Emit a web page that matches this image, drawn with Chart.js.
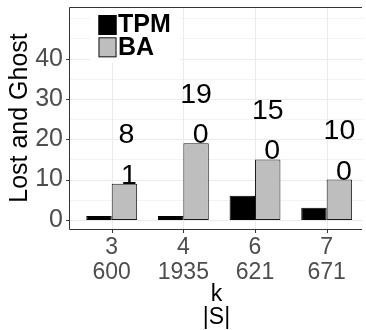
<!DOCTYPE html>
<html><head><meta charset="utf-8">
<script src="https://cdn.jsdelivr.net/npm/chart.js@4"></script>
<style>html,body{margin:0;padding:0;background:#fff;overflow:hidden}#wrap{width:366px;height:330px}canvas{display:block}</style>
</head><body><div id="wrap"><canvas id="c" width="366" height="330"></canvas></div>
<script>
// ---- data ----
const categories = [["3","600"],["4","1935"],["6","621"],["7","671"]];
const seriesNames = ["TPM","BA"];
const tpmValues = [1, 1, 6, 3];
const baValues = [9, 19, 15, 10];
const lowerLabels = ["1","0","0","0"];
const upperLabels = ["8","19","15","10"];
const upperLabelLift = 10;
const yTickValues = [0, 10, 20, 30, 40];
const yGridValues = [0, 5, 10, 15, 20, 25, 30, 35, 40, 45, 50];

const FAMILY = '"Liberation Sans", Arial, Helvetica, sans-serif';
Chart.defaults.font.family = FAMILY;
const MAJOR = '#ebebeb', MINOR = '#f3f3f3', AXIS = '#333333';

const xPos = categories.map((_, i) => i + 1);

const gridPlugin = {
  id: 'manualGrid',
  beforeDatasetsDraw(chart) {
    const {ctx, chartArea: a} = chart;
    const xs = chart.scales.x, ys = chart.scales.y;
    ctx.save();
    ctx.fillStyle = '#fff';
    ctx.fillRect(a.right - 1, 0, chart.width - a.right + 1, a.bottom + 1);
    ctx.lineWidth = 1;
    yGridValues.forEach(v => {
      const major = yTickValues.includes(v);
      const p = Math.round(ys.getPixelForValue(v)) + 0.5;
      ctx.strokeStyle = major ? MAJOR : MINOR;
      ctx.beginPath(); ctx.moveTo(a.left, p); ctx.lineTo(a.right, p); ctx.stroke();
      if (major) {
        ctx.strokeStyle = AXIS;
        ctx.beginPath(); ctx.moveTo(a.left - 4, p); ctx.lineTo(a.left, p); ctx.stroke();
      }
    });
    xPos.forEach(v => {
      const p = Math.round(xs.getPixelForValue(v)) + 0.5;
      ctx.strokeStyle = MAJOR;
      ctx.beginPath(); ctx.moveTo(p, a.top); ctx.lineTo(p, a.bottom); ctx.stroke();
      ctx.strokeStyle = AXIS;
      ctx.beginPath(); ctx.moveTo(p, a.bottom); ctx.lineTo(p, a.bottom + 4); ctx.stroke();
    });
    ctx.restore();
  }
};

const labelPlugin = {
  id: 'barLabels',
  afterDatasetsDraw(chart) {
    const {ctx} = chart;
    const meta = chart.getDatasetMeta(1);
    const ys = chart.scales.y;
    ctx.save();
    ctx.font = '28.5px ' + FAMILY;
    ctx.fillStyle = '#000';
    ctx.textAlign = 'center';
    ctx.textBaseline = 'alphabetic';
    meta.data.forEach((bar, i) => {
      const v = baValues[i];
      const lo = lowerLabels[i], up = upperLabels[i];
      const offLo = lo.length === 1 ? 4.5 : 0;
      const offUp = up.length === 1 ? 2 : 0;
      ctx.fillText(lo, bar.x + offLo, ys.getPixelForValue(v));
      ctx.fillText(up, bar.x + offUp, ys.getPixelForValue(v + upperLabelLift));
    });
    ctx.restore();
  }
};

const framePlugin = {
  id: 'frame',
  afterDraw(chart) {
    const {ctx, chartArea: a} = chart;
    ctx.save();
    ctx.strokeStyle = AXIS; ctx.lineWidth = 1;
    const top = Math.round(a.top) + 0.5, bot = Math.round(a.bottom) + 0.5, left = Math.round(a.left) - 0.5;
    ctx.beginPath();
    ctx.moveTo(left, top); ctx.lineTo(a.right - 1, top);
    ctx.stroke();
    ctx.beginPath();
    ctx.moveTo(left, top); ctx.lineTo(left, bot);
    ctx.stroke();
    ctx.beginPath();
    ctx.moveTo(left, bot); ctx.lineTo(a.right - 1, bot);
    ctx.stroke();
    // legend
    ctx.fillStyle = '#fff';
    ctx.fillRect(90, a.top + 1, 90, 55);
    chart.data.datasets.forEach((ds, i) => {
      const ky = 15 + i * 22.3;
      ctx.fillStyle = ds.backgroundColor;
      ctx.fillRect(98.5, ky, 18, 20);
      ctx.strokeStyle = ds.borderColor; ctx.lineWidth = 1;
      ctx.strokeRect(99, ky + 0.5, 17, 19);
      ctx.fillStyle = '#000';
      ctx.font = 'bold 25px ' + FAMILY;
      ctx.textAlign = 'left';
      ctx.textBaseline = 'middle';
      ctx.fillText(ds.label, 118, ky + 10.5);
    });
    ctx.restore();
  }
};

new Chart(document.getElementById('c'), {
  type: 'bar',
  data: {
    datasets: [
      { label: seriesNames[0], data: tpmValues.map((v, i) => ({x: xPos[i], y: v})),
        backgroundColor: '#000000', borderColor: '#000000', borderWidth: 1, borderSkipped: false,
        categoryPercentage: 0.71, barPercentage: 1 },
      { label: seriesNames[1], data: baValues.map((v, i) => ({x: xPos[i], y: v})),
        backgroundColor: '#bebebe', borderColor: '#1a1a1a', borderWidth: 1, borderSkipped: false,
        categoryPercentage: 0.71, barPercentage: 1 }
    ]
  },
  options: {
    responsive: false,
    animation: false,
    devicePixelRatio: 1,
    layout: { padding: { left: 0, right: 3, top: 7, bottom: 0 } },
    plugins: { legend: { display: false }, tooltip: { enabled: false } },
    scales: {
      x: {
        type: 'linear', min: 0.418, max: 4.507, offset: false,
        afterBuildTicks: s => { s.ticks = xPos.map(v => ({value: v})); },
        afterFit: s => { s.height = 101; s.paddingLeft = 0; s.paddingRight = 0; },
        ticks: { callback: v => categories[v - 1] || '', autoSkip: false, maxRotation: 0,
          font: { size: 23, lineHeight: 1.09 }, color: '#4d4d4d', padding: 6 },
        grid: { display: false, drawTicks: false },
        border: { display: false },
        title: { display: true, text: ['k', '|S|'], color: '#000',
          font: { size: 23, lineHeight: 1.0 }, padding: { top: 0, bottom: 1 } }
      },
      y: {
        min: -2.25, max: 52.8,
        afterBuildTicks: s => { s.ticks = yTickValues.map(v => ({value: v})); },
        afterFit: s => { s.width = 70; s.paddingTop = 0; s.paddingBottom = 0; },
        ticks: { callback: v => String(v), font: { size: 25 }, color: '#4d4d4d', padding: 7 },
        grid: { display: false, drawTicks: false },
        border: { display: false },
        title: { display: true, text: 'Lost and Ghost', color: '#000',
          font: { size: 25, lineHeight: 1.2 }, padding: { top: 5, bottom: 0 } }
      }
    }
  },
  plugins: [gridPlugin, labelPlugin, framePlugin]
});
</script>
</body></html>
